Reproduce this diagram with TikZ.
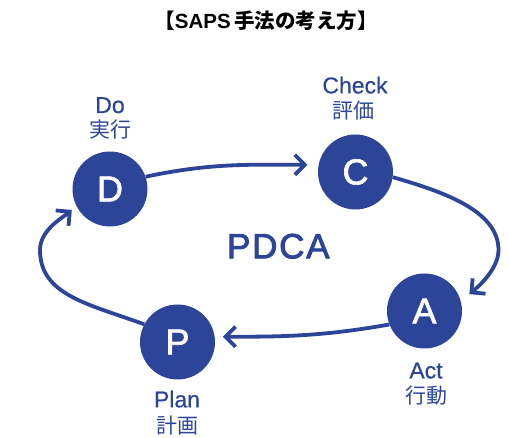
\documentclass[tikz,border=0pt]{standalone}
\usepackage{fontspec}
\setmainfont{Liberation Sans}
\newfontfamily\cjk{Noto Sans CJK JP}
\usetikzlibrary{arrows.meta}
\definecolor{pblue}{RGB}{44,69,152}
\begin{document}
\begin{tikzpicture}[x=1pt,y=1pt,
  phase/.style={circle,fill=pblue,minimum size=75pt,inner sep=0pt,text=white,
    font=\fontsize{36}{36}\selectfont\addfontfeature{FakeBold=1.8}},
  lat/.style={text=pblue,anchor=base,inner sep=0pt,font=\fontsize{23}{23}\selectfont\addfontfeature{FakeBold=0.6}},
  jp/.style={text=pblue,anchor=base,inner sep=0pt,font=\cjk\fontsize{21}{21}\selectfont},
  cyc/.style={draw=pblue,line width=3.8pt,-{Straight Barb[length=10pt,width=20pt]}}]
\useasboundingbox (0,0) rectangle (509,438);
\node[anchor=base,inner sep=0pt,font=\bfseries\fontsize{20.5}{20.5}\selectfont] (title) at (266,409.7)
  {{\cjk 【}SAPS\,{\cjk 手法の考え方】}};
\node[phase] (D) at (110,249) {D};
\node[phase] (C) at (355.5,266) {C};
\node[phase] (A) at (424.5,127) {A};
\node[phase] (P) at (177.5,96) {P};
\node[text=pblue,anchor=base,inner sep=0pt,
  font=\fontsize{35}{35}\selectfont\addfontfeature{FakeBold=2.5,LetterSpace=5}] (pdca) at (278.3,179.7) {PDCA};
\node[lat] (Dl1) at (110,325) {Do};
\node[jp]  (Dl2) at (110,300) {実行};
\node[lat] (Cl1) at (355,344.6) {Check};
\node[jp]  (Cl2) at (353,319) {評価};
\node[lat] (Al1) at (426,59.6) {Act};
\node[jp]  (Al2) at (426,34) {行動};
\node[lat] (Pl1) at (177,30.6) {Plan};
\node[jp]  (Pl2) at (177,4) {計画};
\coordinate (cR) at (498.5,188);
\coordinate (cL) at (40,188);
% D -> C
\draw[cyc,shorten >=11pt] (D.19) to[out=12,in=180] (C.169);
% C -> A
\draw[cyc,shorten >=11pt] (C.-8) .. controls +(-16:50) and +(0,40) .. (cR)
   .. controls +(0,-20) and +(40:20) .. (A.15);
% A -> P
\draw[cyc,shorten >=8pt] (A.201) to[out=190,in=0] (P.8);
% P -> D
\draw[cyc,shorten >=6pt] (P.152) .. controls +(160:60) and +(0,-45) .. (cL)
   .. controls +(0,20) and +(220:18) .. (D.207);
\end{tikzpicture}
\end{document}
